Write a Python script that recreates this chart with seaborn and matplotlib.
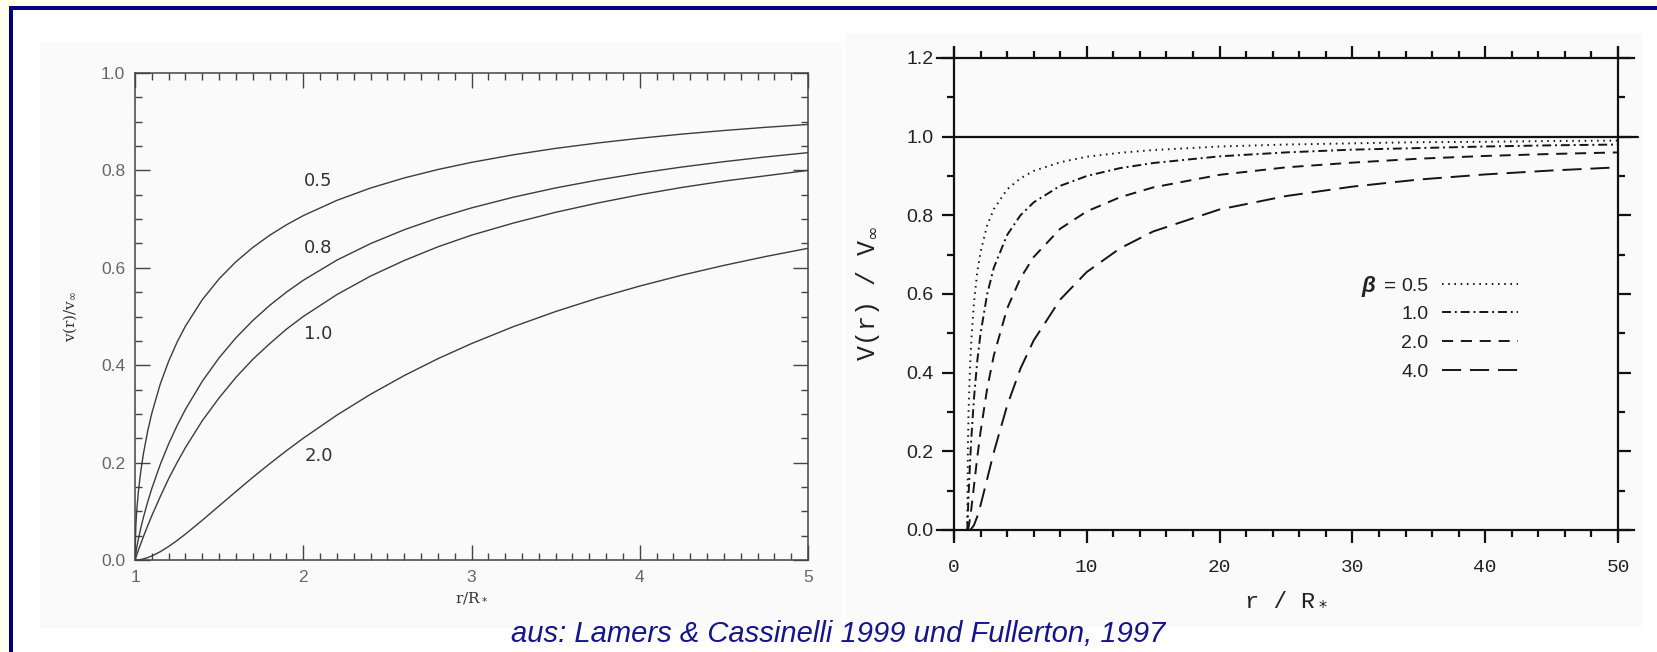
import matplotlib
matplotlib.use("Agg")
import matplotlib.pyplot as plt
from matplotlib.patches import Rectangle
from matplotlib.ticker import MultipleLocator
import seaborn as sns

# left panel (Lamers & Cassinelli): v(r)/v_inf against r/R*
r_left = [1.0, 1.005, 1.01, 1.02, 1.035, 1.05, 1.075, 1.1, 1.15, 1.2, 1.25, 1.3, 1.4, 1.5,
          1.6, 1.7, 1.8, 1.9, 2.0, 2.2, 2.4, 2.6, 2.8, 3.0, 3.25, 3.5, 3.75, 4.0, 4.25,
          4.5, 4.75, 5.0]
v_b05 = [0.0, 0.0705, 0.0995, 0.1400, 0.1839, 0.2182, 0.2641, 0.3015, 0.3612, 0.4082,
         0.4472, 0.4804, 0.5345, 0.5774, 0.6124, 0.6417, 0.6667, 0.6882, 0.7071, 0.7385,
         0.7638, 0.7845, 0.8018, 0.8165, 0.8321, 0.8452, 0.8563, 0.8660, 0.8745, 0.8819,
         0.8885, 0.8944]
v_b08 = [0.0, 0.0144, 0.0249, 0.0430, 0.0666, 0.0875, 0.1188, 0.1469, 0.1960, 0.2385,
         0.2759, 0.3094, 0.3671, 0.4152, 0.4563, 0.4917, 0.5227, 0.5500, 0.5743, 0.6158,
         0.6497, 0.6781, 0.7022, 0.7230, 0.7451, 0.7640, 0.7802, 0.7944, 0.8069, 0.8179,
         0.8277, 0.8365]
v_b10 = [0.0, 0.005, 0.010, 0.020, 0.034, 0.048, 0.070, 0.091, 0.130, 0.167, 0.200, 0.231,
         0.286, 0.333, 0.375, 0.412, 0.444, 0.474, 0.500, 0.545, 0.583, 0.615, 0.643,
         0.667, 0.692, 0.714, 0.733, 0.750, 0.765, 0.778, 0.789, 0.800]
v_b20 = [0.0, 0.0, 0.0001, 0.0004, 0.0011, 0.0023, 0.0049, 0.0083, 0.0170, 0.0278, 0.0400,
         0.0533, 0.0816, 0.1111, 0.1406, 0.1696, 0.1975, 0.2244, 0.2500, 0.2975, 0.3403,
         0.3787, 0.4133, 0.4444, 0.4793, 0.5102, 0.5378, 0.5625, 0.5848, 0.6049, 0.6233,
         0.6400]
left_labels = ["0.5", "0.8", "1.0", "2.0"]

# right panel (Fullerton): out to 50 stellar radii
r_right = [1.0, 1.05, 1.1, 1.2, 1.3, 1.5, 1.75, 2.0, 2.5, 3.0, 4.0, 5.0, 6.0, 8.0,
           10.0, 12.5, 15.0, 20.0, 25.0, 30.0, 35.0, 40.0, 45.0, 50.0]
w_b05 = [0.0, 0.218, 0.302, 0.408, 0.480, 0.577, 0.655, 0.707, 0.775, 0.816, 0.866, 0.894,
         0.913, 0.935, 0.949, 0.959, 0.966, 0.975, 0.980, 0.983, 0.986, 0.987, 0.989, 0.990]
w_b10 = [0.0, 0.048, 0.091, 0.167, 0.231, 0.333, 0.429, 0.500, 0.600, 0.667, 0.750, 0.800,
         0.833, 0.875, 0.900, 0.920, 0.933, 0.950, 0.960, 0.967, 0.971, 0.975, 0.978, 0.980]
w_b20 = [0.0, 0.002, 0.008, 0.028, 0.053, 0.111, 0.184, 0.250, 0.360, 0.444, 0.563, 0.640,
         0.694, 0.766, 0.810, 0.846, 0.871, 0.903, 0.922, 0.934, 0.944, 0.951, 0.956, 0.960]
w_b40 = [0.0, 0.0, 0.0001, 0.0008, 0.003, 0.012, 0.034, 0.063, 0.130, 0.198, 0.316, 0.410,
         0.482, 0.586, 0.656, 0.716, 0.759, 0.815, 0.849, 0.873, 0.891, 0.904, 0.914, 0.922]
right_labels = ["0.5", "1.0", "2.0", "4.0"]
v_inf = 1.0

sns.set_theme(style="ticks")
plt.rcParams["font.family"] = ["Liberation Sans", "DejaVu Sans"]

W, H = 1657, 652
fig = plt.figure(figsize=(W / 100, H / 100), dpi=100, facecolor="#fffff0")

# slide frame: white page with navy rule on top and left
fig.patches.append(Rectangle((9 / W, 0), 1, (H - 6) / H, transform=fig.transFigure,
                             facecolor="white", edgecolor="none", zorder=-3))
fig.patches.append(Rectangle((9 / W, 0), 3.5 / W, (H - 6) / H, transform=fig.transFigure,
                             facecolor="#00007f", edgecolor="none", zorder=-1))
fig.patches.append(Rectangle((9 / W, (H - 9.5) / H), 1, 3.5 / H, transform=fig.transFigure,
                             facecolor="#00007f", edgecolor="none", zorder=-1))
# the two scanned figures sit on a faintly grey paper
fig.patches.append(Rectangle((40 / W, (H - 628) / H), 802 / W, 586 / H, transform=fig.transFigure,
                             facecolor="#fafafa", edgecolor="none", zorder=-2))
fig.patches.append(Rectangle((845 / W, (H - 627) / H), 797 / W, 594 / H, transform=fig.transFigure,
                             facecolor="#fafafa", edgecolor="none", zorder=-2))

# ---------------- left panel ----------------
ax1 = fig.add_axes([135 / W, (H - 560) / H, 673 / W, 487 / H])
ax1.set_facecolor("none")
for vals in [v_b05, v_b08, v_b10, v_b20]:
    sns.lineplot(x=r_left, y=vals, ax=ax1, color="#3c3c3c", lw=1.0)

for lab, (tx, ty) in zip(left_labels, [(2.09, 0.778), (2.09, 0.641), (2.09, 0.464), (2.09, 0.213)]):
    ax1.text(tx, ty, lab, ha="center", va="center", fontsize=13, color="#333333",
             family=["DejaVu Sans"])

ax1.set_xlim(1, 5)
ax1.set_ylim(0, 1.0)
ax1.xaxis.set_major_locator(MultipleLocator(1))
ax1.xaxis.set_minor_locator(MultipleLocator(0.1))
ax1.yaxis.set_major_locator(MultipleLocator(0.2))
ax1.yaxis.set_minor_locator(MultipleLocator(0.05))
ax1.set_yticks([0, 0.2, 0.4, 0.6, 0.8, 1.0], ["0.0", "0.2", "0.4", "0.6", "0.8", "1.0"])
ax1.tick_params(which="both", direction="in", top=True, right=True, color="#444444",
                width=1.0, labelcolor="#666666", labelsize=12.5)
ax1.tick_params(which="major", length=11, pad=7)
ax1.tick_params(which="minor", length=5)
for sp in ax1.spines.values():
    sp.set_color("#444444")
    sp.set_linewidth(1.1)
ax1.set_xlabel(r"r/R$_*$", fontsize=11, color="#333333", family=["DejaVu Serif"], labelpad=4)
ax1.set_ylabel(r"v(r)/v$_\infty$", fontsize=11, color="#333333", family=["DejaVu Serif"],
               labelpad=16)

# ---------------- right panel ----------------
ax2 = fig.add_axes([954 / W, (H - 530) / H, 664 / W, 472 / H])
ax2.set_facecolor("none")
styles = [(0, (0.8, 2.4)), (0, (4.6, 2.0, 1.0, 2.0)), (0, (5.7, 4.0)), (0, (9.8, 4.6))]
for vals, lab, ls in zip([w_b05, w_b10, w_b20, w_b40], right_labels, styles):
    sns.lineplot(x=r_right, y=vals, ax=ax2, color="#151515", lw=1.4, linestyle=ls, label=lab)

ax2.axhline(v_inf, xmin=0, xmax=1.03, clip_on=False, color="#111111", lw=1.6)

ax2.set_xlim(0, 50)
ax2.set_ylim(0, 1.2)
ax2.xaxis.set_major_locator(MultipleLocator(10))
ax2.xaxis.set_minor_locator(MultipleLocator(2))
ax2.yaxis.set_major_locator(MultipleLocator(0.2))
ax2.yaxis.set_minor_locator(MultipleLocator(0.1))
ax2.set_yticks([0, 0.2, 0.4, 0.6, 0.8, 1.0, 1.2], ["0.0", "0.2", "0.4", "0.6", "0.8", "1.0", "1.2"])
ax2.tick_params(which="both", direction="out", top=True, right=True, color="#111111",
                width=1.6, labelcolor="#222222")
ax2.tick_params(which="major", length=9)
ax2.tick_params(which="minor", length=5)
ax2.tick_params(axis="y", labelsize=14, pad=6)
ax2.tick_params(axis="x", labelsize=14, pad=12)
mono = ["Liberation Mono", "DejaVu Sans Mono"]
for t in ax2.get_xticklabels():
    t.set_family(mono)
for sp in ax2.spines.values():
    sp.set_color("#111111")
    sp.set_linewidth(1.6)
ax2.spines["top"].set_bounds(-1.3, 51.2)
ax2.spines["bottom"].set_bounds(-1.3, 51.2)
ax2.spines["left"].set_bounds(-0.02, 1.225)
ax2.spines["right"].set_bounds(-0.02, 1.225)

ax2.set_xlabel(r"r / R$_*$", fontsize=17, family=mono, color="#222222", labelpad=8)
ax2.set_ylabel(r"V(r) / V$_\infty$", fontsize=18, family=mono, color="#222222", labelpad=17)

handles, labels = ax2.get_legend_handles_labels()
leg = ax2.legend(handles, labels, loc="upper right", bbox_to_anchor=(0.87, 0.565),
                 frameon=False, fontsize=14, markerfirst=False, handlelength=3.9,
                 handletextpad=0.7, labelspacing=0.57, borderpad=0.2)
for t in leg.get_texts():
    t.set_color("#222222")
# "beta =" sits in front of the first legend entry (drawn after the legend)
ax2.annotate("=", xy=(0, 0.5), xycoords=leg.get_texts()[0], xytext=(-4, 0),
             textcoords="offset points", ha="right", va="center", fontsize=15,
             color="#222222", zorder=10)
ax2.annotate("β", xy=(0, 0.5), xycoords=leg.get_texts()[0], xytext=(-19, 0),
             textcoords="offset points", ha="right", va="center", fontsize=16,
             fontweight="bold", fontstyle="italic", color="#222222", zorder=10)

fig.text(0.506, 0.028, "aus: Lamers & Cassinelli 1999 und Fullerton, 1997",
         style="italic", color="#14148c", fontsize=21, ha="center", va="center")

fig.canvas.draw()
fig.savefig("out.png", dpi=100, facecolor=fig.get_facecolor())
